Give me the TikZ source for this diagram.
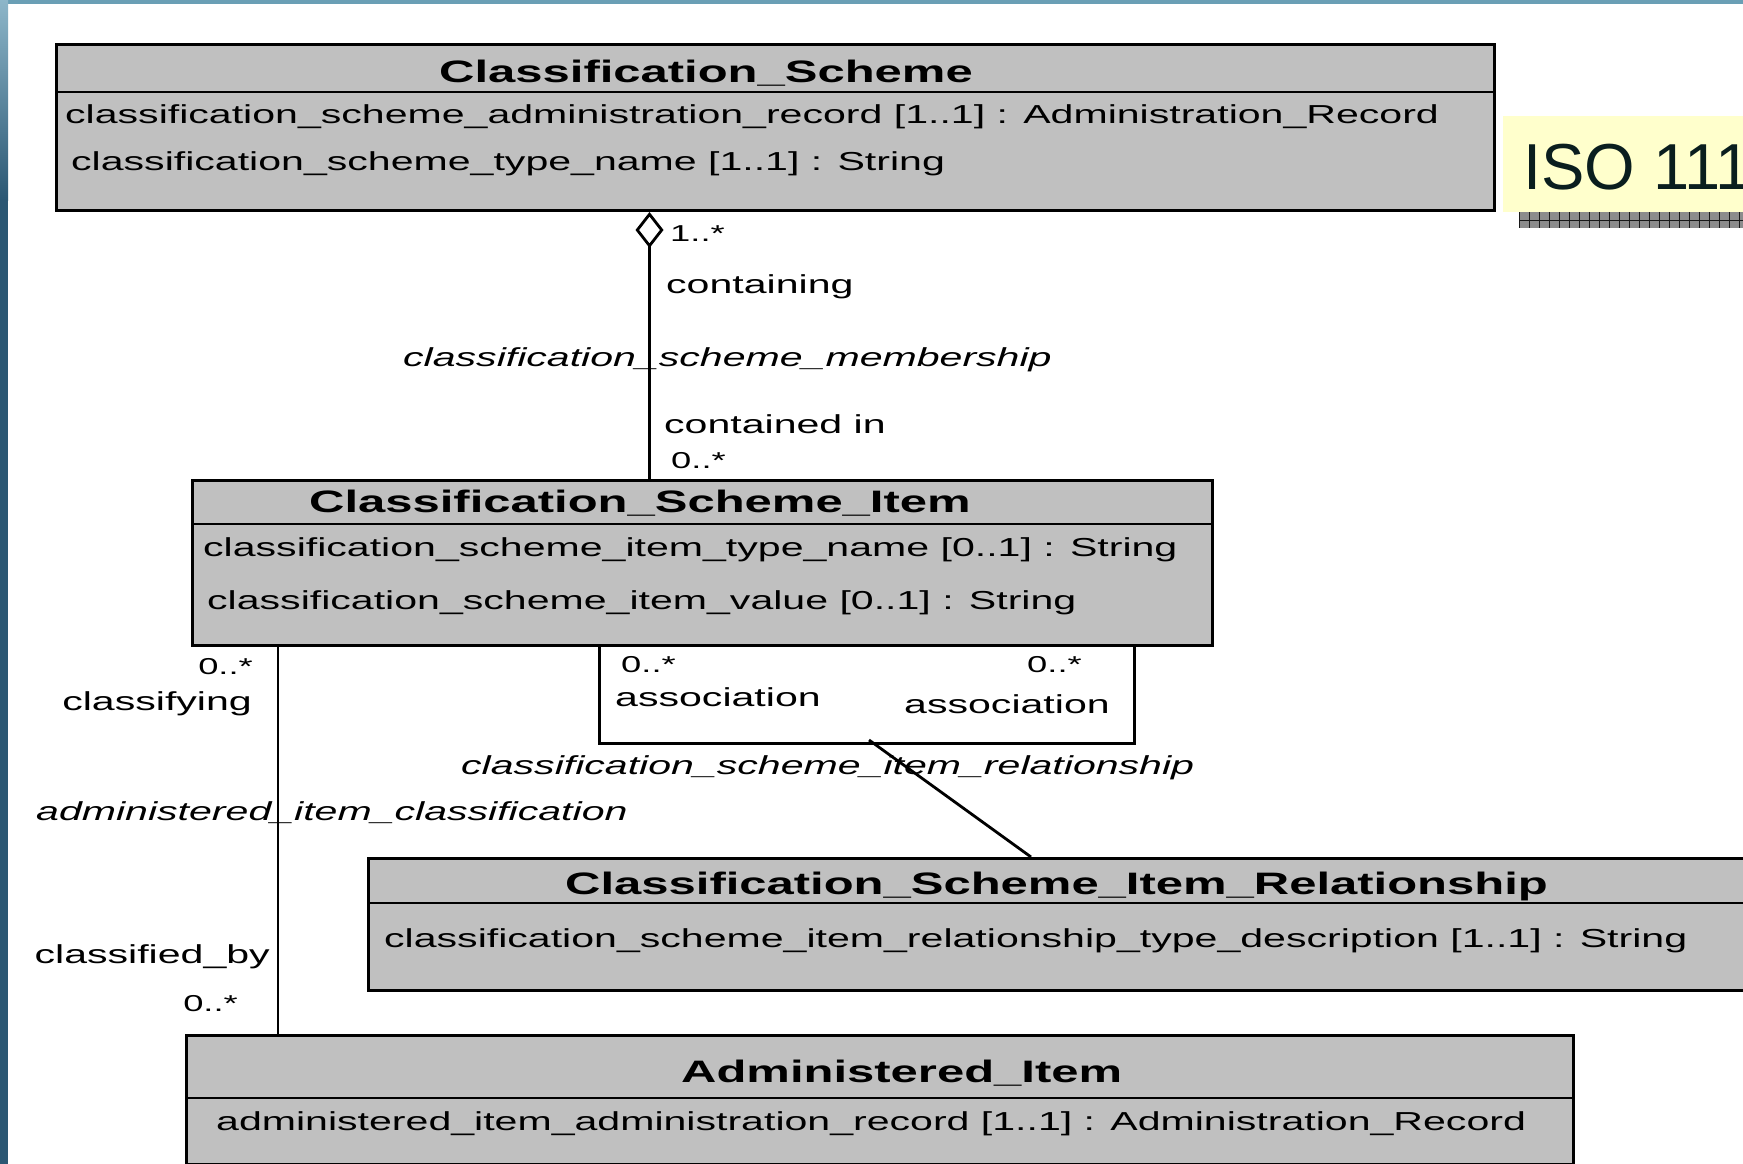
\documentclass[tikz,border=0pt]{standalone}
\usepackage{fontspec}
\usetikzlibrary{arrows.meta}
\newfontfamily\umlf[FakeStretch=1.58]{Liberation Sans}
\newfontfamily\isof{Liberation Sans}
\definecolor{umlgray}{HTML}{C0C0C0}
\definecolor{isoyellow}{HTML}{FFFFCC}
\definecolor{isotext}{HTML}{0A1E1E}
\definecolor{stripdark}{HTML}{2B5773}
\definecolor{striplight}{HTML}{8DB6C9}
\definecolor{topband}{HTML}{6A9FB5}
\definecolor{shadowgray}{HTML}{8C8C8C}
\begin{document}
\begin{tikzpicture}[x=1pt,y=-1pt,
  umlbox/.style={draw=black,line width=3pt,fill=umlgray,inner sep=0pt,anchor=north west},
  divline/.style={line width=2.5pt},
  conn/.style={line width=2.8pt},
  ttl/.style={font=\umlf\bfseries\fontsize{31}{36}\selectfont,inner sep=0pt,anchor=base west},
  attr/.style={font=\umlf\fontsize{26}{30}\selectfont,inner sep=0pt,anchor=base west},
  lbl/.style={font=\umlf\fontsize{26}{30}\selectfont,inner sep=0pt},
  ilbl/.style={font=\umlf\itshape\fontsize{26}{30}\selectfont,inner sep=0pt},
  mult/.style={font=\umlf\fontsize{23}{27}\selectfont,inner sep=0pt},
]
\useasboundingbox (0,0) rectangle (1743,1164);
\begin{scope}
\clip (0,0) rectangle (1743,1164);
\fill[white] (0,0) rectangle (1743,1164);
\fill[topband] (0,0) rectangle (1743,4);
\shade[top color=striplight,bottom color=stripdark] (0,0) rectangle (8,200);
\fill[stripdark] (0,200) rectangle (8,1164);

% ISO label
\node[fill=isoyellow,minimum width=260,minimum height=96,anchor=north west,inner sep=0pt] (isobox) at (1503,116) {};
\fill[shadowgray] (1519,212) rectangle (1760,228);
\foreach \x in {1519,1529,...,1749} \draw[gray!20!black,line width=0.8pt] (\x,212) -- (\x,228);
\draw[gray!20!black,line width=0.8pt] (1519,220) -- (1760,220);
\node[font=\isof\fontsize{65}{70}\selectfont,text=isotext,anchor=base west,inner sep=0pt] (iso) at (1523,189) {ISO 111};

% Classification_Scheme
\node[umlbox,minimum width=1438,minimum height=166] (cs) at (55,43) {};
\draw[divline] (55,92) -- (1493,92);
\node[ttl] (cst) at (439,82) {Classification\_Scheme};
\node[attr] (csa1) at (65,123) {classification\_scheme\_administration\_record [1..1] : Administration\_Record};
\node[attr] (csa2) at (71,170) {classification\_scheme\_type\_name [1..1] : String};

% Classification_Scheme_Item
\node[umlbox,minimum width=1020,minimum height=165] (csi) at (191,479) {};
\draw[divline] (191,524) -- (1211,524);
\node[ttl] (csit) at (309,512) {Classification\_Scheme\_Item};
\node[attr] (csia1) at (203,556) {classification\_scheme\_item\_type\_name [0..1] : String};
\node[attr] (csia2) at (207,609) {classification\_scheme\_item\_value [0..1] : String};

% Classification_Scheme_Item_Relationship
\node[umlbox,minimum width=1400,minimum height=132] (csir) at (367,857) {};
\draw[divline] (367,903) -- (1767,903);
\node[ttl] (csirt) at (565,894) {Classification\_Scheme\_Item\_Relationship};
\node[attr] (csira) at (384,947) {classification\_scheme\_item\_relationship\_type\_description [1..1] : String};

% Administered_Item
\node[umlbox,minimum width=1387,minimum height=129] (ai) at (185,1034) {};
\draw[divline] (185,1098) -- (1572,1098);
\node[ttl] (ait) at (681,1082) {Administered\_Item};
\node[attr] (aia) at (216,1130) {administered\_item\_administration\_record [1..1] : Administration\_Record};

% membership connector
\coordinate (mx) at (649.5,0);
\draw[conn,{Diamond[open,length=36pt,width=28pt,line width=2.8pt]}-] (cs.south -| mx) -- (csi.north -| mx);
\node[mult,anchor=mid west] (m1) at (670,239) {1..*};
\node[lbl,anchor=mid west] (r1) at (666,291) {containing};
\node[ilbl,anchor=mid west] (a1) at (403,364) {classification\_scheme\_membership};
\node[lbl,anchor=mid west] (r2) at (664,431) {contained in};
\node[mult,anchor=mid west] (m2) at (671,466) {0..*};

% classification connector
\coordinate (lx) at (278,0);
\draw[conn] (csi.south -| lx) -- (ai.north -| lx);
\node[mult,anchor=mid east] (m3) at (253,672) {0..*};
\node[lbl,anchor=mid east] (r3) at (252,708) {classifying};
\node[ilbl,anchor=mid west] (a2) at (36,818) {administered\_item\_classification};
\node[lbl,anchor=mid east] (r4) at (270,961) {classified\_by};
\node[mult,anchor=mid east] (m4) at (238,1009) {0..*};

% self association
\coordinate (ax1) at (599,0);
\coordinate (ax2) at (1134,0);
\draw[line width=3pt] (csi.south -| ax1) -- ++(0,96) -| (csi.south -| ax2);
\node[mult,anchor=mid west] (m5) at (621,670) {0..*};
\node[lbl,anchor=mid west] (r5) at (615,704) {association};
\node[mult,anchor=mid west] (m6) at (1027,670) {0..*};
\node[lbl,anchor=mid west] (r6) at (904,711) {association};
\node[ilbl,anchor=mid west] (a3) at (461,772) {classification\_scheme\_item\_relationship};

% association class link
\coordinate (dq) at (869,740);
\coordinate (dx) at (1031,0);
\draw[conn] (dq) -- (csir.north -| dx);
\end{scope}
\end{tikzpicture}
\end{document}
